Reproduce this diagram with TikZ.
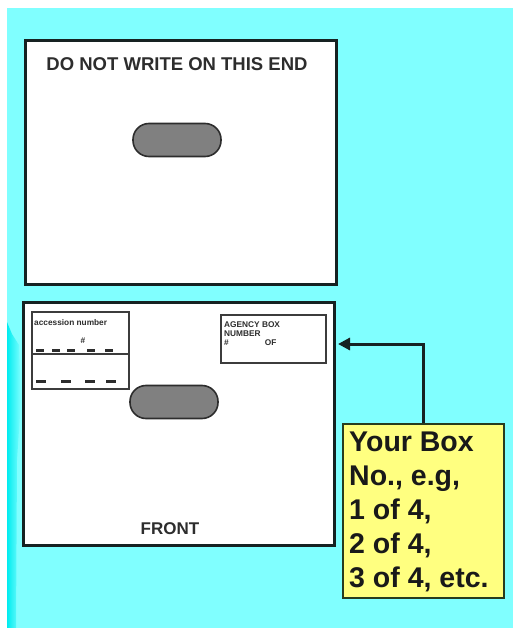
\documentclass[tikz,border=0pt]{standalone}
\usepackage{fontspec}
\setmainfont{Liberation Sans}
\usetikzlibrary{arrows.meta}
\definecolor{bgcyan}{RGB}{128,255,255}
\definecolor{stripcyan}{RGB}{0,236,240}
\definecolor{pillgray}{RGB}{128,128,128}
\definecolor{boxedge}{RGB}{22,34,34}
\definecolor{inneredge}{RGB}{60,60,60}
\definecolor{notey}{RGB}{255,255,128}
\definecolor{noteedge}{RGB}{40,60,30}
\definecolor{inkgray}{RGB}{45,45,45}
\tikzset{
  panel/.style={draw=boxedge, line width=3pt, fill=white, inner sep=0pt, anchor=north west},
  innerbox/.style={draw=inneredge, line width=1.6pt, fill=white, inner sep=0pt, anchor=north west},
  pill/.style={draw=inkgray, line width=1.6pt, fill=pillgray, rounded corners=16pt, inner sep=0pt, minimum width=88pt, minimum height=33pt},
  bigtext/.style={font=\fontsize{17}{20}\selectfont\bfseries, text=inkgray, inner sep=0pt},
  tinytext/.style={font=\fontsize{8.3}{9}\selectfont\bfseries, text=inkgray, inner sep=0pt, align=left},
  dashseg/.style={draw=inkgray, line width=3pt},
  notebox/.style={draw=noteedge, line width=2pt, fill=notey, inner sep=0pt, anchor=north west},
  notetext/.style={font=\fontsize{28.5}{34}\selectfont\bfseries, text=black!90, inner sep=0pt, align=left, anchor=north west},
  conn/.style={draw=boxedge, line width=3pt, -{Triangle[length=12pt,width=12pt]}}
}
\begin{document}
\begin{tikzpicture}[x=1pt,y=-1pt]
\useasboundingbox (0,0) rectangle (513,628);
\fill[white] (0,0) rectangle (513,628);
\fill[bgcyan] (7,8) rectangle (513,628);
\shade[left color=stripcyan, right color=bgcyan]
  (7,322) -- (12,334) -- (19,345) -- (21,400) -- (17,460) -- (16,628) -- (7,628) -- cycle;

% top panel
\node[panel, minimum width=311pt, minimum height=244pt] (top) at (24,39) {};
\node[bigtext, font=\fontsize{18.5}{21}\selectfont\bfseries] (topt) at (177,64) {DO NOT WRITE ON THIS END};
\node[pill] (p1) at (177,140) {};

% bottom panel
\node[panel, minimum width=311pt, minimum height=243pt] (bot) at (22,301) {};
\node[bigtext] (front) at (170,529) {FRONT};
\node[pill] (p2) at (174,402) {};

% accession box
\node[innerbox, minimum width=97pt, minimum height=77pt] (acc) at (31,311) {};
\draw[draw=inneredge, line width=1.6pt] (acc.west |- 0,354) -- (acc.east |- 0,354);
\node[tinytext, anchor=west] (accn) at (34,323) {accession number};
\node[tinytext] (hash) at (83,341) {\#};
\foreach \a/\b in {36/44, 52/60, 67/75, 87/95, 105/113}
  \draw[dashseg] (\a,350) -- (\b,350);
\foreach \a/\b in {36/46, 61/71, 85/95, 106/116}
  \draw[dashseg] (\a,381) -- (\b,381);

% agency box
\node[innerbox, minimum width=105pt, minimum height=48pt] (agency) at (220,314) {};
\node[tinytext, anchor=north west] (agt) at (224,322) {AGENCY BOX\\NUMBER\\\#\hspace{36pt}OF};

% note box
\node[notebox, minimum width=161pt, minimum height=174pt] (yb) at (342,423) {};
\node[notetext] (ybt) at (349,432) {Your Box\\No., e.g,\\1 of 4,\\2 of 4,\\3 of 4, etc.};

\coordinate (tip) at (338,344);
\draw[conn] (yb.north) |- (tip);
\end{tikzpicture}
\end{document}
